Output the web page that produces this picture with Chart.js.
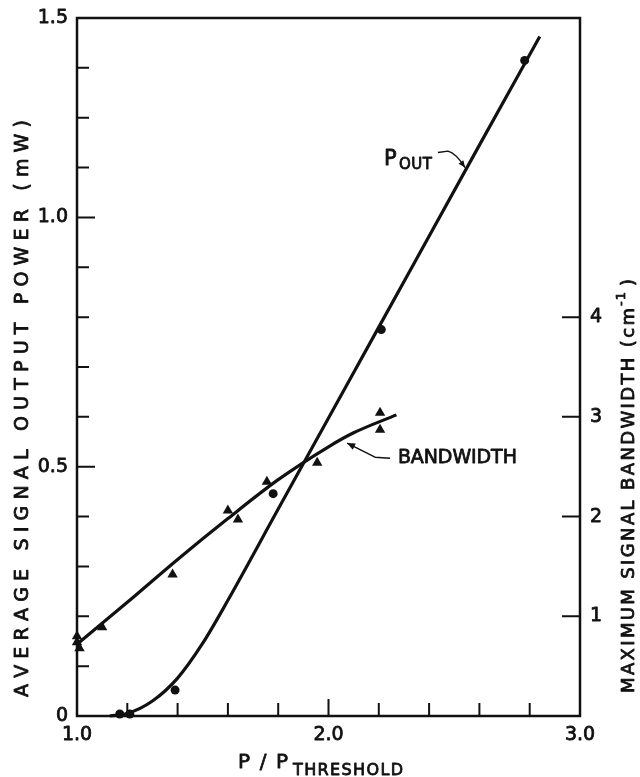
<!DOCTYPE html>
<html>
<head>
<meta charset="utf-8">
<script src="https://cdn.jsdelivr.net/npm/chart.js@4.4.1/dist/chart.umd.min.js"></script>
<style>
  html, body { margin: 0; padding: 0; background: #fff; }
  #wrap { width: 640px; height: 777px; }
</style>
</head>
<body>
<div id="wrap"><canvas id="chart" width="640" height="777"></canvas></div>
<script>
// Datos

// P_out (mW) - puntos medidos (circulos)
const POUT_X = [1.17, 1.21, 1.39, 1.78, 2.21, 2.78];
const POUT_Y = [0.004, 0.004, 0.052, 0.446, 0.775, 1.315];

// Curva ajustada de P_out
const POUT_FIT_X = [1.13, 1.2, 1.3, 1.4, 1.5, 1.6, 1.8, 2.2, 2.6, 2.84];
const POUT_FIT_Y = [0, 0.005, 0.03, 0.076, 0.146, 0.232, 0.415, 0.78, 1.145, 1.363];

// Ancho de banda (cm^-1) - puntos medidos (triangulos)
const BW_X = [1.0, 1.0, 1.01, 1.10, 1.38, 1.60, 1.64, 1.755, 1.955, 2.205, 2.205];
const BW_Y = [0.80, 0.74, 0.68, 0.89, 1.42, 2.06, 1.97, 2.35, 2.54, 3.04, 2.87];

// Curva ajustada del ancho de banda
const BW_FIT_X = [1.0, 1.2, 1.4, 1.6, 1.8, 2.0, 2.1, 2.27];
const BW_FIT_Y = [0.72, 1.14, 1.57, 1.98, 2.37, 2.70, 2.84, 3.02];

// Ejes y marcas
const X_LABEL_VALUES = [1, 2, 3];
const X_LABELS = ['1.0', '2.0', '3.0'];
const X_MINOR = [1.2, 1.4, 1.6, 1.8, 2.2, 2.4, 2.6, 2.8];
const X_MAJOR = [2.0];

const LEFT_LABEL_VALUES = [0, 0.5, 1.0, 1.4];
const LEFT_LABELS = ['0', '0.5', '1.0', '1.5'];
const LEFT_MINOR = [0.1, 0.2, 0.3, 0.4, 0.6, 0.7, 0.8, 0.9, 1.1, 1.2, 1.3];
const LEFT_MAJOR = [0.5, 1.0];

const RIGHT_LABEL_VALUES = [1, 2, 3, 4];
const RIGHT_LABELS = ['1', '2', '3', '4'];

const FONT = 'DejaVu Sans';
const INK = '#111';

function pts(xs, ys) {
    return xs.map((x, i) => ({ x: x, y: ys[i] }));
}

// texto "rotulado": relleno + trazo fino para engrosar
function inkText(ctx, text, x, y) {
    ctx.fillText(text, x, y);
    ctx.strokeText(text, x, y);
}

// texto con espaciado para que ocupe un ancho dado
function spacedText(ctx, text, x, y, width) {
    const chars = [...text];
    const widths = chars.map(c => ctx.measureText(c).width);
    const sum = widths.reduce((a, b) => a + b, 0);
    const gap = chars.length > 1 ? (width - sum) / (chars.length - 1) : 0;
    let cx = x;
    chars.forEach((c, i) => {
        inkText(ctx, c, cx, y);
        cx += widths[i] + gap;
    });
    return cx - gap;
}

function arrowHead(ctx, fromX, fromY, toX, toY, len, half) {
    const a = Math.atan2(toY - fromY, toX - fromX);
    ctx.beginPath();
    ctx.moveTo(toX, toY);
    ctx.lineTo(toX - len * Math.cos(a) + half * Math.sin(a), toY - len * Math.sin(a) - half * Math.cos(a));
    ctx.lineTo(toX - len * Math.cos(a) - half * Math.sin(a), toY - len * Math.sin(a) + half * Math.cos(a));
    ctx.closePath();
    ctx.fill();
}

const paperPlugin = {
    id: 'paper',
    afterDraw(chart) {
        const { ctx, chartArea: a, scales } = chart;
        const sx = scales.x, sy = scales.y, sr = scales.y2;
        ctx.save();
        ctx.strokeStyle = INK;
        ctx.fillStyle = INK;

        // marco
        ctx.lineWidth = 2.5;
        ctx.strokeRect(a.left, a.top, a.right - a.left, a.bottom - a.top);

        // marcas hacia adentro
        ctx.lineWidth = 2;
        ctx.beginPath();
        LEFT_MINOR.forEach(v => { const y = sy.getPixelForValue(v); ctx.moveTo(a.left, y); ctx.lineTo(a.left + 12, y); });
        LEFT_MAJOR.forEach(v => { const y = sy.getPixelForValue(v); ctx.moveTo(a.left, y); ctx.lineTo(a.left + 18, y); });
        X_MINOR.forEach(v => { const x = sx.getPixelForValue(v); ctx.moveTo(x, a.bottom); ctx.lineTo(x, a.bottom - 13); });
        X_MAJOR.forEach(v => { const x = sx.getPixelForValue(v); ctx.moveTo(x, a.bottom); ctx.lineTo(x, a.bottom - 17); });
        RIGHT_LABEL_VALUES.forEach(v => { const y = sr.getPixelForValue(v); ctx.moveTo(a.right, y); ctx.lineTo(a.right - 18, y); });
        ctx.stroke();

        ctx.lineWidth = 0.8;
        ctx.lineJoin = 'round';

        // rotulos de los ejes
        ctx.font = '19px ' + FONT;
        ctx.textBaseline = 'middle';
        ctx.textAlign = 'right';
        LEFT_LABEL_VALUES.forEach((v, i) => inkText(ctx, LEFT_LABELS[i], a.left - 9, sy.getPixelForValue(v)));
        ctx.textAlign = 'left';
        RIGHT_LABEL_VALUES.forEach((v, i) => inkText(ctx, RIGHT_LABELS[i], a.right + 10, sr.getPixelForValue(v)));
        ctx.textAlign = 'center';
        X_LABEL_VALUES.forEach((v, i) => inkText(ctx, X_LABELS[i], sx.getPixelForValue(v), a.bottom + 19));

        // titulo eje x
        ctx.textBaseline = 'alphabetic';
        ctx.textAlign = 'left';
        ctx.font = '20px ' + FONT;
        const xt = spacedText(ctx, 'P / P', 238, 768, 50);
        ctx.font = '16px ' + FONT;
        spacedText(ctx, 'THRESHOLD', xt + 5, 775, 110);

        // titulo eje izquierdo
        ctx.save();
        ctx.translate(28, 697);
        ctx.rotate(-Math.PI / 2);
        ctx.font = '19px ' + FONT;
        spacedText(ctx, 'AVERAGE SIGNAL OUTPUT POWER (mW)', 0, 0, 577);
        ctx.restore();

        // titulo eje derecho
        ctx.save();
        ctx.translate(634, 693);
        ctx.rotate(-Math.PI / 2);
        ctx.font = '18px ' + FONT;
        let rx = spacedText(ctx, 'MAXIMUM SIGNAL BANDWIDTH (cm', 0, 0, 385);
        ctx.font = '13px ' + FONT;
        rx = spacedText(ctx, '-1', rx + 2, -9, 14);
        ctx.font = '18px ' + FONT;
        inkText(ctx, ')', rx + 6, 0);
        ctx.restore();

        // etiqueta P_OUT
        ctx.font = '21px ' + FONT;
        inkText(ctx, 'P', sx.getPixelForValue(2.221), sy.getPixelForValue(1.106));
        ctx.font = '15px ' + FONT;
        spacedText(ctx, 'OUT', sx.getPixelForValue(2.280), sy.getPixelForValue(1.098), 33);
        ctx.lineWidth = 1.5;
        const p0x = sx.getPixelForValue(2.435), p0y = sy.getPixelForValue(1.130);
        const p1x = sx.getPixelForValue(2.475), p1y = sy.getPixelForValue(1.133);
        const ptx = sx.getPixelForValue(2.543), pty = sy.getPixelForValue(1.100);
        ctx.beginPath();
        ctx.moveTo(p0x, p0y);
        ctx.lineTo(p1x, p1y);
        ctx.quadraticCurveTo(p1x + 8, p1y + 2, ptx, pty);
        ctx.stroke();
        arrowHead(ctx, p1x + 8, p1y + 4, ptx, pty, 7, 3);

        // etiqueta BANDWIDTH
        ctx.lineWidth = 0.8;
        ctx.font = '19px ' + FONT;
        ctx.textBaseline = 'middle';
        spacedText(ctx, 'BANDWIDTH', sx.getPixelForValue(2.276), sr.getPixelForValue(2.586), 119);
        ctx.lineWidth = 1.5;
        const b0x = sx.getPixelForValue(2.245), b0y = sr.getPixelForValue(2.586);
        const b1x = sx.getPixelForValue(2.185), b1y = sr.getPixelForValue(2.596);
        const btx = sx.getPixelForValue(2.074), bty = sr.getPixelForValue(2.737);
        ctx.beginPath();
        ctx.moveTo(b0x, b0y);
        ctx.lineTo(b1x, b1y);
        ctx.lineTo(btx, bty);
        ctx.stroke();
        arrowHead(ctx, b1x, b1y, btx, bty, 8, 3.5);

        ctx.restore();
    }
};

const hiddenTicks = { display: false };

new Chart(document.getElementById('chart'), {
    type: 'scatter',
    data: {
        datasets: [
            {
                label: 'P_out ajuste',
                data: pts(POUT_FIT_X, POUT_FIT_Y),
                yAxisID: 'y',
                showLine: true,
                borderColor: INK,
                borderWidth: 3.2,
                pointRadius: 0,
                cubicInterpolationMode: 'monotone',
                clip: false
            },
            {
                label: 'Bandwidth ajuste',
                data: pts(BW_FIT_X, BW_FIT_Y),
                yAxisID: 'y2',
                showLine: true,
                borderColor: INK,
                borderWidth: 3.2,
                pointRadius: 0,
                cubicInterpolationMode: 'monotone',
                clip: false
            },
            {
                label: 'P_out',
                data: pts(POUT_X, POUT_Y),
                yAxisID: 'y',
                pointStyle: 'circle',
                pointRadius: 4.5,
                backgroundColor: INK,
                borderColor: INK,
                borderWidth: 0,
                clip: false
            },
            {
                label: 'Bandwidth',
                data: pts(BW_X, BW_Y),
                yAxisID: 'y2',
                pointStyle: 'triangle',
                pointRadius: 6,
                backgroundColor: INK,
                borderColor: INK,
                borderWidth: 0,
                clip: false
            }
        ]
    },
    plugins: [paperPlugin],
    options: {
        responsive: false,
        animation: false,
        devicePixelRatio: 1,
        layout: { padding: { top: 18, left: 0, right: 0, bottom: 0 } },
        plugins: {
            legend: { display: false },
            tooltip: { enabled: false }
        },
        scales: {
            x: {
                type: 'linear',
                min: 1, max: 3,
                afterFit: s => { s.height = 61; },
                grid: { display: false, drawTicks: false },
                border: { display: false },
                ticks: hiddenTicks
            },
            y: {
                type: 'linear',
                position: 'left',
                min: 0, max: 1.4,
                afterFit: s => { s.width = 77; },
                grid: { display: false, drawTicks: false },
                border: { display: false },
                ticks: hiddenTicks
            },
            y2: {
                type: 'linear',
                position: 'right',
                min: 0, max: 7,
                afterFit: s => { s.width = 60; },
                grid: { display: false, drawTicks: false },
                border: { display: false },
                ticks: hiddenTicks
            }
        }
    }
});
</script>
</body>
</html>
